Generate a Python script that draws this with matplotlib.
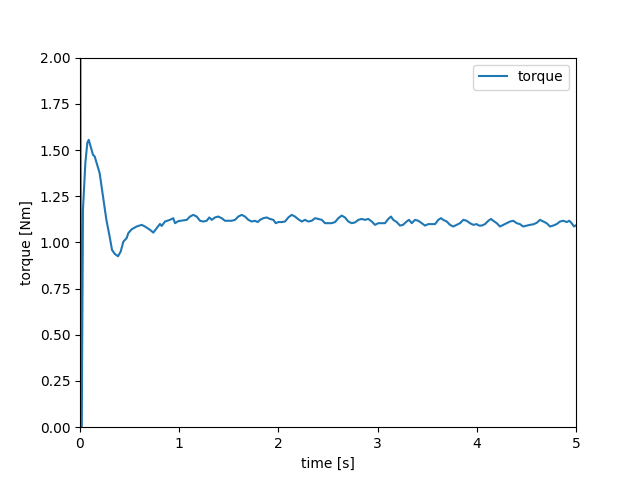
import matplotlib
matplotlib.use("Agg")
import matplotlib.pyplot as plt

# time samples [s]
time = [0.0, 0.012, 0.03, 0.054, 0.074, 0.088, 0.131, 0.148, 0.198, 0.232,
        0.266, 0.299, 0.323, 0.35, 0.383, 0.41, 0.437, 0.47, 0.487, 0.521,
        0.571, 0.622, 0.655, 0.706, 0.739, 0.773, 0.806, 0.823, 0.857, 0.907,
        0.94, 0.958, 0.991, 1.025, 1.076, 1.109, 1.142, 1.176, 1.21, 1.243,
        1.277, 1.303, 1.328, 1.361, 1.394, 1.428, 1.462, 1.495, 1.529, 1.563,
        1.596, 1.63, 1.663, 1.697, 1.731, 1.764, 1.791, 1.815, 1.848, 1.882,
        1.915, 1.949, 1.973, 1.999, 2.033, 2.067, 2.1, 2.134, 2.167, 2.201,
        2.235, 2.268, 2.301, 2.336, 2.369, 2.402, 2.437, 2.47, 2.503, 2.537,
        2.571, 2.604, 2.638, 2.671, 2.705, 2.739, 2.772, 2.806, 2.84, 2.873,
        2.906, 2.941, 2.974, 3.007, 3.041, 3.075, 3.108, 3.135, 3.158, 3.193,
        3.226, 3.256, 3.293, 3.317, 3.344, 3.377, 3.41, 3.445, 3.478, 3.511,
        3.545, 3.579, 3.612, 3.639, 3.662, 3.697, 3.73, 3.763, 3.797, 3.831,
        3.864, 3.898, 3.931, 3.965, 3.999, 4.022, 4.049, 4.083, 4.116, 4.143,
        4.166, 4.201, 4.234, 4.267, 4.301, 4.335, 4.368, 4.402, 4.435, 4.467,
        4.503, 4.536, 4.57, 4.604, 4.637, 4.67, 4.704, 4.738, 4.77, 4.805,
        4.839, 4.872, 4.906, 4.933, 4.956, 4.98, 5.007]

# torque [Nm]
torque = [3.5, -0.5, 1.18, 1.43, 1.54, 1.555, 1.474, 1.465, 1.375, 1.248,
          1.122, 1.031, 0.959, 0.938, 0.925, 0.95, 1.004, 1.023, 1.05, 1.071,
          1.086, 1.095, 1.086, 1.068, 1.053, 1.077, 1.1, 1.089, 1.113, 1.122,
          1.131, 1.104, 1.115, 1.118, 1.122, 1.14, 1.149, 1.14, 1.117, 1.113,
          1.117, 1.135, 1.122, 1.135, 1.14, 1.131, 1.117, 1.117, 1.117, 1.122,
          1.14, 1.149, 1.14, 1.122, 1.113, 1.117, 1.11, 1.122, 1.131, 1.135,
          1.127, 1.122, 1.104, 1.11, 1.11, 1.113, 1.135, 1.149, 1.14, 1.125,
          1.113, 1.122, 1.113, 1.117, 1.131, 1.127, 1.122, 1.104, 1.104, 1.104,
          1.11, 1.131, 1.145, 1.135, 1.113, 1.104, 1.108, 1.122, 1.127, 1.122,
          1.127, 1.113, 1.095, 1.104, 1.104, 1.104, 1.127, 1.14, 1.122, 1.11,
          1.091, 1.095, 1.113, 1.122, 1.104, 1.122, 1.117, 1.104, 1.091, 1.099,
          1.099, 1.099, 1.122, 1.131, 1.122, 1.113, 1.095, 1.086, 1.095, 1.104,
          1.122, 1.117, 1.104, 1.095, 1.099, 1.091, 1.091, 1.099, 1.117, 1.127,
          1.117, 1.104, 1.086, 1.095, 1.104, 1.113, 1.117, 1.104, 1.099, 1.086,
          1.091, 1.095, 1.098, 1.106, 1.122, 1.113, 1.104, 1.086, 1.091, 1.099,
          1.113, 1.117, 1.11, 1.117, 1.104, 1.086, 1.095]

fig, ax = plt.subplots(figsize=(6.4, 4.8), dpi=100)
ax.plot(time, torque, label="torque")
ax.set_xlim(0, 5)
ax.set_ylim(0, 2)
ax.set_xlabel("time [s]")
ax.set_ylabel("torque [Nm]")
ax.legend(loc="upper right")
fig.savefig("out.png")
